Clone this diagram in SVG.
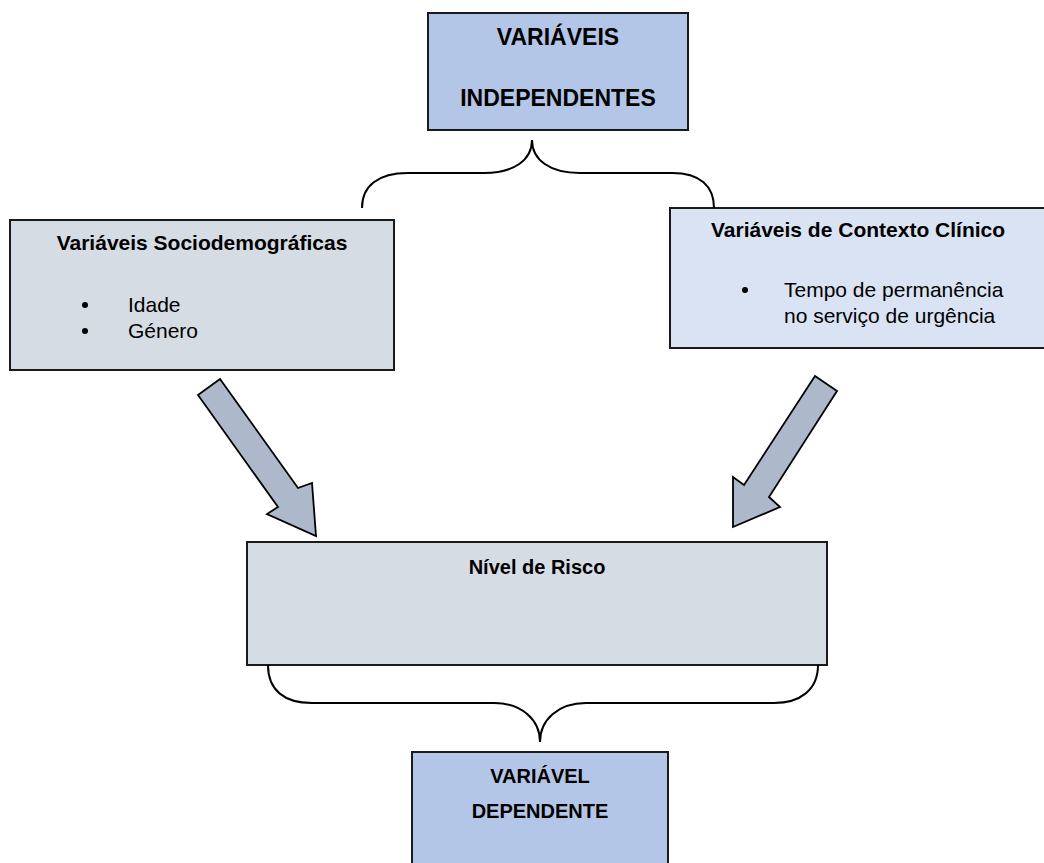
<svg xmlns="http://www.w3.org/2000/svg" width="1044" height="863" viewBox="0 0 1044 863">
<style>
text{font-family:"Liberation Sans",Arial,sans-serif;fill:#000}
.hdr{font-size:23px;font-weight:bold;text-anchor:middle}
.hdr2{font-size:20px;font-weight:bold;text-anchor:middle}
.ttl{font-size:21px;font-weight:bold;text-anchor:middle}
.ttl2{font-size:20px;font-weight:bold;text-anchor:middle}
.itm{font-size:21px}
.box{stroke:#1a1a1a;stroke-width:2}
.blue{fill:#b4c6e7}
.grey{fill:#d6dce4}
.lblue{fill:#dae3f3}
.brace{fill:none;stroke:#000;stroke-width:2}
.arrow{fill:#adb9ca;stroke:#000;stroke-width:1.8;stroke-linejoin:miter}
</style>
<rect width="1044" height="863" fill="#fff"/>
<g id="independentes">
<rect class="box blue" x="428" y="13" width="260" height="117"/>
<text class="hdr" x="558" y="45">VARIÁVEIS</text>
<text class="hdr" x="558" y="106">INDEPENDENTES</text>
</g>
<g id="sociodemograficas">
<rect class="box grey" x="10" y="220" width="384" height="150"/>
<text class="ttl" x="202" y="250">Variáveis Sociodemográficas</text>
<circle cx="85" cy="305" r="3"/>
<circle cx="85" cy="331" r="3"/>
<text class="itm" x="128" y="312">Idade</text>
<text class="itm" x="128" y="338">Género</text>
</g>
<g id="contexto">
<rect class="box lblue" x="670" y="208" width="376" height="140"/>
<text class="ttl" x="858" y="237">Variáveis de Contexto Clínico</text>
<circle cx="745" cy="290" r="3"/>
<text class="itm" x="784" y="297">Tempo de permanência</text>
<text class="itm" x="784" y="323">no serviço de urgência</text>
</g>
<g id="nivel">
<rect class="box grey" x="247" y="542" width="580" height="123"/>
<text class="ttl2" x="537" y="574">Nível de Risco</text>
</g>
<g id="dependente">
<rect class="box blue" x="412" y="752" width="256" height="120"/>
<text class="hdr2" x="540" y="783">VARIÁVEL</text>
<text class="hdr2" x="540" y="818">DEPENDENTE</text>
</g>
<g id="connectors">
<path class="brace" d="M362,208 C362,186 378,173 408,173 L484,173 C514,173 532,160 532,140 C532,160 550,173 580,173 L672,173 C700,173 714,186 714,208"/>
<path class="brace" d="M268,665 C268,690 284,703 312,703 L494,703 C522,703 540,720 540,742 C540,720 558,703 586,703 L774,703 C800,703 818,690 818,665"/>
<polygon class="arrow" points="198,395 220,379 298,488 312,483 316,536 267,514 278,507"/>
<polygon class="arrow" points="815,376 837,391 769,497 780,507 733,527 733,477 744,485"/>
</g>
</svg>
